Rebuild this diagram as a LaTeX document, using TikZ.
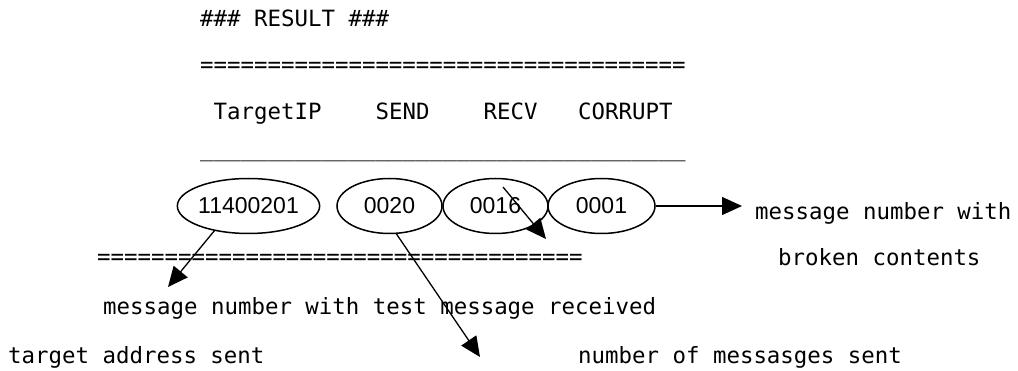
\documentclass[tikz,border=0pt]{standalone}
\usepackage{fontspec}
\usetikzlibrary{shapes.geometric,arrows.meta}
\newfontfamily\resmono{DejaVu Sans Mono}
\newfontfamily\resdigit{Liberation Sans}

\begin{document}
\begin{tikzpicture}[x=1pt,y=-1pt,
  mono/.style={anchor=base west,inner sep=0pt,font=\resmono\fontsize{22.4}{26}\selectfont},
  cell/.style={ellipse,draw,line width=1.5pt,inner sep=0pt,minimum height=55pt,
    font=\resdigit\fontsize{23}{26}\selectfont},
  pointer/.style={line width=1.3pt,-{Triangle[length=20pt,width=18pt]}}]
  \useasboundingbox (0,0) rectangle (1018,371);
  % heading and rules
  \node[mono] (title) at (200,27) {\#\#\# RESULT \#\#\#};
  \node[mono] (toprule) at (200,73) {====================================};
  \node[mono] (hip) at (213.5,120) {TargetIP};
  \node[mono] (hsend) at (375.5,120) {SEND};
  \node[mono] (hrecv) at (483.5,120) {RECV};
  \node[mono] (hcorrupt) at (578,120) {CORRUPT};
  \node[mono] (midrule) at (200,157) {\_\_\_\_\_\_\_\_\_\_\_\_\_\_\_\_\_\_\_\_\_\_\_\_\_\_\_\_\_\_\_\_\_\_\_\_};
  % values
  \node[cell,minimum width=141pt] (ip) at (248.5,206) {11400201};
  \node[cell,minimum width=105pt] (send) at (389.5,206) {0020};
  \node[cell,minimum width=105pt] (recv) at (495.5,206) {0016};
  \node[cell,minimum width=107pt] (corrupt) at (601.5,206) {0001};
  \node[mono] (lowrule) at (97,265) {====================================};
  % explanations
  \node[mono] (corrupttxt) at (755,220) {message number with};
  \node[mono] (corrupttxt2) at (778,266) {broken contents};
  \node[mono] (recvtxt) at (103,315) {message number with test message received};
  \node[mono] (iptxt) at (8,363) {target address sent};
  \node[mono] (sendtxt) at (578,363) {number of messasges sent};
  % pointers
  \coordinate (ipend) at (168,287);
  \coordinate (sendend) at (480,357);
  \coordinate (recvfrom) at (503,187);
  \coordinate (recvend) at (546,239);
  \coordinate (corruptend) at (742,206);
  \draw[pointer] (ip.216) -- (ipend);
  \draw[pointer] (send.284) -- (sendend);
  \draw[pointer] (recvfrom) -- (recvend);
  \draw[pointer] (corrupt.east) -- (corruptend);
\end{tikzpicture}
\end{document}
